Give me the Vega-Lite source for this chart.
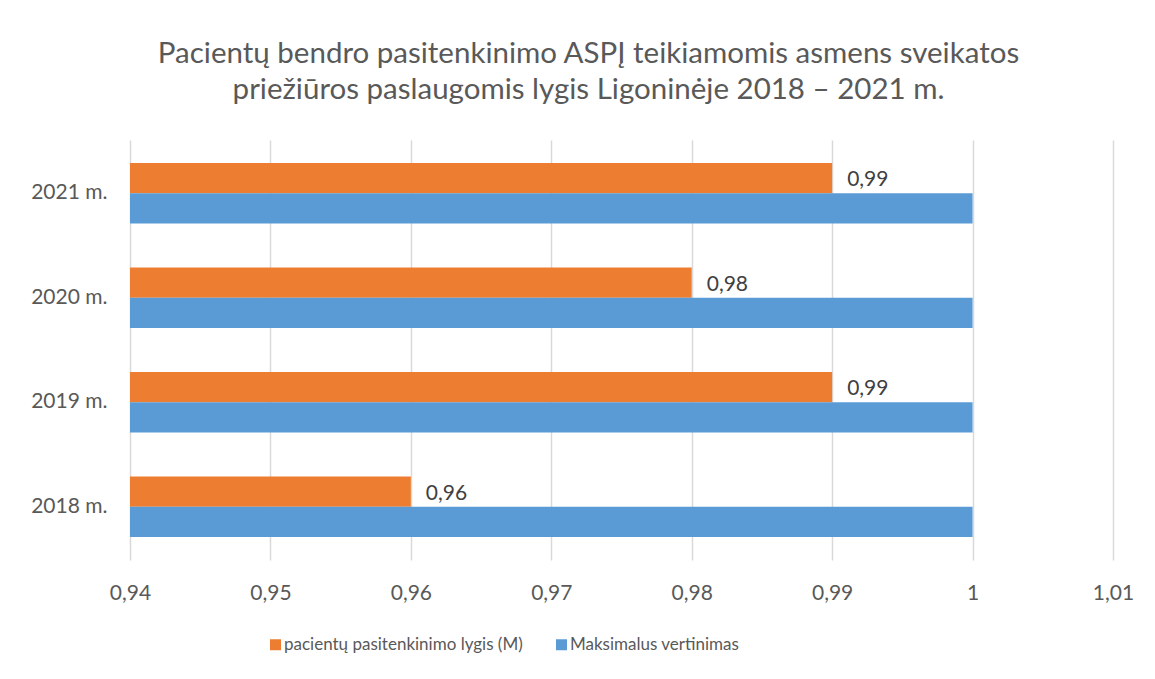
{
  "$schema": "https://vega.github.io/schema/vega-lite/v6.json",
  "autosize": {"type": "none"},
  "width": 983,
  "height": 420,
  "padding": {"left": 130, "top": 140, "right": 42, "bottom": 119},
  "background": "white",
  "config": {
    "view": {"stroke": null},
    "font": "Lato",
    "text": {"font": "Lato"},
    "locale": {"number": {"decimal": ",", "thousands": " ", "grouping": [3], "currency": ["", " €"]}}
  },
  "title": {
    "text": ["Pacientų bendro pasitenkinimo ASPĮ teikiamomis asmens sveikatos", "priežiūros paslaugomis lygis Ligoninėje 2018 – 2021 m."],
    "font": "Lato",
    "fontSize": 29.5,
    "fontWeight": "normal",
    "color": "#595959",
    "lineHeight": 36,
    "anchor": "middle",
    "frame": "group",
    "baseline": "alphabetic",
    "offset": 12,
    "dx": -33
  },
  "data": {
    "values": [
      {"metai": "2021 m.", "serija": "pacientų pasitenkinimo lygis (M)", "reiksme": 0.99},
      {"metai": "2021 m.", "serija": "Maksimalus vertinimas", "reiksme": 1},
      {"metai": "2020 m.", "serija": "pacientų pasitenkinimo lygis (M)", "reiksme": 0.98},
      {"metai": "2020 m.", "serija": "Maksimalus vertinimas", "reiksme": 1},
      {"metai": "2019 m.", "serija": "pacientų pasitenkinimo lygis (M)", "reiksme": 0.99},
      {"metai": "2019 m.", "serija": "Maksimalus vertinimas", "reiksme": 1},
      {"metai": "2018 m.", "serija": "pacientų pasitenkinimo lygis (M)", "reiksme": 0.96},
      {"metai": "2018 m.", "serija": "Maksimalus vertinimas", "reiksme": 1}
    ]
  },
  "encoding": {
    "y": {
      "field": "metai",
      "type": "nominal",
      "sort": ["2021 m.", "2020 m.", "2019 m.", "2018 m."],
      "scale": {"paddingInner": 0.42, "paddingOuter": 0.22},
      "title": null,
      "axis": {
        "domain": false,
        "ticks": false,
        "labelPadding": 23,
        "labelFont": "Lato",
        "labelFontSize": 21,
        "labelColor": "#595959"
      }
    },
    "yOffset": {
      "field": "serija",
      "type": "nominal",
      "sort": ["pacientų pasitenkinimo lygis (M)", "Maksimalus vertinimas"],
      "scale": {"domain": ["pacientų pasitenkinimo lygis (M)", "Maksimalus vertinimas"], "paddingInner": 0, "paddingOuter": 0}
    },
    "x": {
      "field": "reiksme",
      "type": "quantitative",
      "scale": {"domain": [0.94, 1.01], "nice": false, "zero": false},
      "title": null,
      "axis": {
        "values": [0.94, 0.95, 0.96, 0.97, 0.98, 0.99, 1, 1.01],
        "format": ".2~f",
        "labelFlush": false,
        "domain": false,
        "ticks": false,
        "grid": true,
        "gridColor": "#d9d9d9",
        "gridWidth": 1.5,
        "labelPadding": 22,
        "labelFont": "Lato",
        "labelFontSize": 21,
        "labelColor": "#595959"
      }
    }
  },
  "layer": [
    {
      "mark": {"type": "bar", "clip": true},
      "encoding": {
        "color": {
          "field": "serija",
          "type": "nominal",
          "sort": ["pacientų pasitenkinimo lygis (M)", "Maksimalus vertinimas"],
          "scale": {"domain": ["pacientų pasitenkinimo lygis (M)", "Maksimalus vertinimas"], "range": ["#ed7d31", "#5b9bd5"]},
          "legend": {
            "title": null,
            "orient": "none",
            "direction": "horizontal",
            "columns": 2,
            "legendX": 137,
            "legendY": 496,
            "symbolType": "square",
            "symbolSize": 121,
            "symbolStrokeWidth": 0,
            "symbolOpacity": 1,
            "labelFont": "Lato",
            "labelFontSize": 17,
            "labelColor": "#595959",
            "labelOffset": 0,
            "columnPadding": 30,
            "labelLimit": 500
          }
        }
      }
    },
    {
      "transform": [{"filter": "datum.serija === 'pacientų pasitenkinimo lygis (M)'"}],
      "mark": {"type": "text", "align": "left", "baseline": "middle", "dx": 15, "dy": 2, "font": "Lato", "fontSize": 21, "color": "#404040"},
      "encoding": {
        "text": {"field": "reiksme", "type": "quantitative", "format": ".2f"}
      }
    }
  ]
}
